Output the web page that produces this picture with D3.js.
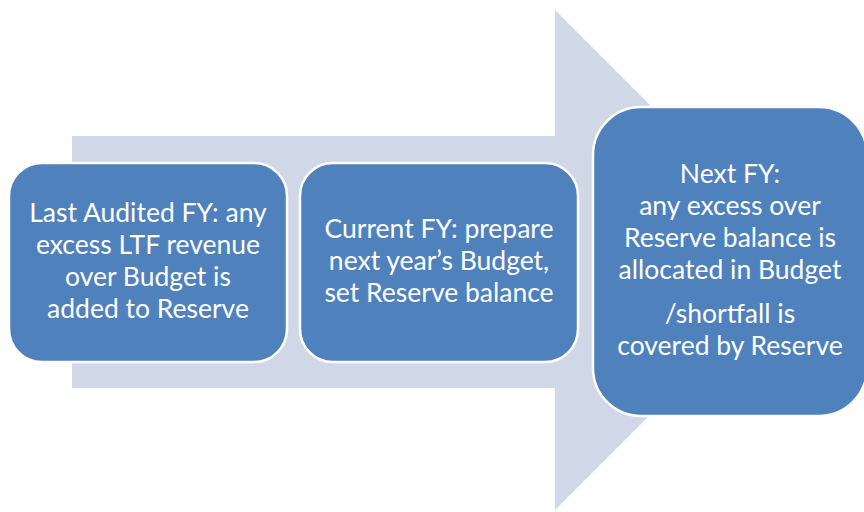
<!DOCTYPE html>
<html>
<head>
<meta charset="utf-8">
<script src="https://cdn.jsdelivr.net/npm/d3@7"></script>
<style>
  body { margin: 0; background: #fff; }
  svg { display: block; }
</style>
</head>
<body>
<svg id="chart"></svg>
<script>
"use strict";

// steps of the process, left to right
var steps = ["Last Audited FY", "Current FY", "Next FY"];
// text lines of each box, paragraphs split by an empty string
var stepLines = [
  ["Last Audited FY: any", "excess LTF revenue", "over Budget is", "added to Reserve"],
  ["Current FY: prepare", "next year\u2019s Budget,", "set Reserve balance"],
  ["Next FY:", "any excess over", "Reserve balance is", "allocated in Budget", "", "/shortfall is", "covered by Reserve"]
];

var width = 864, height = 512;
var svg = d3.select("#chart").attr("width", width).attr("height", height);

// big background arrow
var arrow = [[72, 136], [555, 136], [555, 10], [805, 260], [555, 510], [555, 388], [72, 388]];
svg.append("path")
  .attr("d", d3.line()(arrow) + "Z")
  .attr("fill", "#d0d8e8");

// box layout
var boxes = [
  { x: 9, y: 163, w: 278, h: 199, r: 33, first: 222 },
  { x: 300, y: 163, w: 278, h: 199, r: 33, first: 238 },
  { x: 593, y: 107, w: 274, h: 309, r: 48, first: 183 }
];

var lineH = 32, paraGap = 12;
var font = "Lato, 'Open Sans', sans-serif";

var g = svg.selectAll("g.step").data(steps).enter().append("g").attr("class", "step");

g.append("rect")
  .attr("x", function (d, i) { return boxes[i].x; })
  .attr("y", function (d, i) { return boxes[i].y; })
  .attr("width", function (d, i) { return boxes[i].w; })
  .attr("height", function (d, i) { return boxes[i].h; })
  .attr("rx", function (d, i) { return boxes[i].r; })
  .attr("fill", "#4f81bd")
  .attr("stroke", "#fff")
  .attr("stroke-width", 2.5);

g.each(function (d, i) {
  var b = boxes[i];
  var y = b.first;
  var t = d3.select(this).append("text")
    .attr("text-anchor", "middle")
    .attr("fill", "#fff")
    .style("font-family", font)
    .style("font-size", "26.5px");
  stepLines[i].forEach(function (line, k) {
    if (line === "") { y += paraGap; return; }
    t.append("tspan")
      .attr("x", b.x + b.w / 2)
      .attr("y", y)
      .text(line);
    y += lineH;
  });
});
</script>
</body>
</html>
